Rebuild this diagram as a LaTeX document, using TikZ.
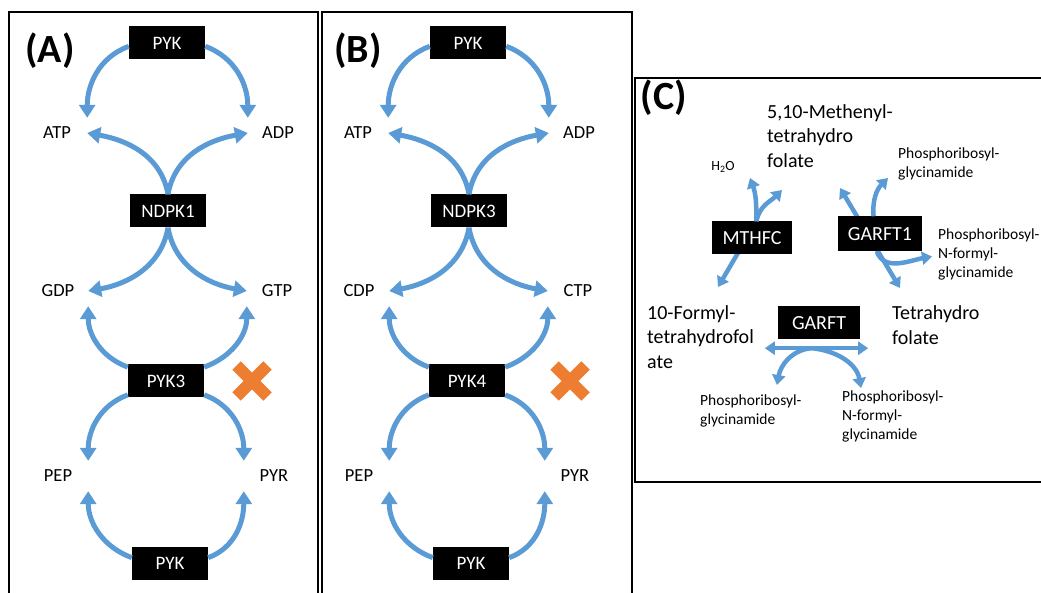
\documentclass[tikz,border=0pt]{standalone}
\usepackage{fontspec}
\setmainfont{Carlito}
\usetikzlibrary{arrows.meta, positioning, shapes.misc, calc, backgrounds}
\definecolor{flowblue}{RGB}{91,155,213}
\definecolor{koorange}{RGB}{237,125,49}

\tikzset{
  frame/.style={draw=black, line width=1.8pt},
  panel/.style={font=\fontsize{40}{44}\selectfont\bfseries, inner sep=0pt},
  enzyme/.style={fill=black, text=white, minimum width=76pt, minimum height=33pt,
    inner sep=0pt, font=\fontsize{19}{22}\selectfont},
  metab/.style={minimum width=60pt, minimum height=30pt, inner sep=0pt,
    font=\fontsize{18.5}{22}\selectfont},
  bigtext/.style={align=left, anchor=west, inner sep=0pt, font=\fontsize{20}{24.5}\selectfont},
  smalltext/.style={align=left, anchor=west, inner sep=0pt, font=\fontsize{15.5}{19}\selectfont},
  ko/.style={cross out, draw=koorange, line width=12pt, minimum size=19pt, inner sep=0pt},
  flow/.style={draw=flowblue, line width=5pt, -{Triangle[length=13pt,width=16pt]}},
  flowc/.style={draw=flowblue, line width=4.5pt, -{Triangle[length=10pt,width=13pt]}},
  flowcc/.style={draw=flowblue, line width=4.5pt,
    {Triangle[length=10pt,width=13pt]}-{Triangle[length=10pt,width=13pt]}}
}

\begin{document}
\begin{tikzpicture}[x=1pt, y=1pt]
  \useasboundingbox (0,0) rectangle (1041,592);

  % panel frames
  \draw[frame] (9,-5) rectangle (318,580);
  \draw[frame] (322,-5) rectangle (632,580);
  \draw[frame, line width=2.6pt] (635,110) rectangle (1050,514);

  % panels A and B
  \foreach \sh/\p/\nd/\lname/\rname/\kin/\xx/\lx in {0/A/NDPK1/GDP/GTP/PYK3/252/50, 301/B/NDPK3/CDP/CTP/PYK4/269/57} {
    \begin{scope}[xshift=\sh]
      \node[panel] (tag\p) at (\lx,541) {(\p)};
      \node[enzyme] (top\p) at (167,549) {PYK};
      \node[enzyme] (ndpk\p) at (168,381) {\nd};
      \node[enzyme] (mid\p) at (166,211) {\kin};
      \node[enzyme] (bot\p) at (170,29) {PYK};
      \node[metab] (atp\p) at (57,459) {ATP};
      \node[metab] (adp\p) at (278,459) {ADP};
      \node[metab] (ndp\p) at (58,301) {\lname};
      \node[metab] (ntp\p) at (277,301) {\rname};
      \node[metab] (pep\p) at (58,116) {PEP};
      \node[metab] (pyr\p) at (274,116) {PYR};
      \node[ko] (ko\p) at (\xx,211) {};

      \draw[flow] (top\p.185) to[out=200,in=90] (atp\p.north east);
      \draw[flow] (top\p.-5) to[out=-20,in=90] (adp\p.north west);
      \draw[flow] (ndpk\p.north) to[out=100,in=-10] (atp\p.east);
      \draw[flow] (ndpk\p.north) to[out=80,in=190] (adp\p.west);
      \draw[flow] (ndpk\p.south) to[out=-100,in=10] (ndp\p.east);
      \draw[flow] (ndpk\p.south) to[out=-80,in=170] (ntp\p.west);
      \draw[flow] (mid\p.160) to[out=160,in=-90] (ndp\p.south east);
      \draw[flow] (mid\p.20) to[out=20,in=-90] (ntp\p.south west);
      \draw[flow] (mid\p.200) to[out=200,in=90] (pep\p.north east);
      \draw[flow] (mid\p.-20) to[out=-20,in=90] (pyr\p.north west);
      \draw[flow] (bot\p.172) to[out=160,in=-90] (pep\p.south east);
      \draw[flow] (bot\p.8) to[out=20,in=-90] (pyr\p.south west);
    \end{scope}
  }

  % panel C
  \node[panel] (tagC) at (664,494) {(C)};
  \node[enzyme, minimum width=80pt, font=\fontsize{20}{22}\selectfont] (mthfc) at (752,354) {MTHFC};
  \node[enzyme, minimum width=84pt, minimum height=35pt, font=\fontsize{20}{22}\selectfont] (garftone) at (880,358) {GARFT1};
  \node[enzyme, minimum width=82pt, font=\fontsize{20}{22}\selectfont] (garft) at (819,269) {GARFT};

  \node[bigtext] (methenyl) at (767,456) {5,10-Methenyl-\\tetrahydro\\folate};
  \node[inner sep=0pt, font=\fontsize{14}{16}\selectfont] (h2o) at (723,425) {H\textsubscript{2}O};
  \node[smalltext] (pgarone) at (898,428) {Phosphoribosyl-\\glycinamide};
  \node[smalltext] (fgarone) at (938,337.5) {Phosphoribosyl-\\N-formyl-\\glycinamide};
  \node[bigtext] (formyl) at (647,255) {10-Formyl-\\tetrahydrofol\\ate};
  \node[bigtext] (thf) at (892,267) {Tetrahydro\\folate};
  \node[smalltext] (pgartwo) at (700,181) {Phosphoribosyl-\\glycinamide};
  \node[smalltext] (fgartwo) at (842,176) {Phosphoribosyl-\\N-formyl-\\glycinamide};

  \begin{scope}[on background layer]
    \draw[flowc] (mthfc.75) -- ($(formyl.west)+(71,50)$);
    \draw[flowcc] ($(methenyl.west)+(73,-52)$) -- ($(thf.west)+(8,37)$);
  \end{scope}
  \draw[flowc] (mthfc.75) to[out=90,in=-70] ($(h2o)+(27,-11)$);
  \draw[flowc] (mthfc.75) to[out=80,in=-135] ($(methenyl.west)+(15,-54)$);
  \draw[flowc] (garftone.110) to[out=95,in=-135] ($(pgarone.west)+(-10,-14)$);
  \draw[flowc] (garftone.-100) to[out=-70,in=190] ($(fgarone.west)+(-6,-2)$);

  \draw[flowcc] ($(garft.south west)+(-13,-8.5)$) -- coordinate[pos=0.45] (garftmid) ($(garft.south east)+(8,-8.5)$);
  \draw[flowc] (garftmid) to[out=185,in=80] ($(pgartwo.west)+(77,26)$);
  \draw[flowc] (garftmid) to[out=-5,in=100] ($(fgartwo.west)+(19,28)$);
\end{tikzpicture}
\end{document}
